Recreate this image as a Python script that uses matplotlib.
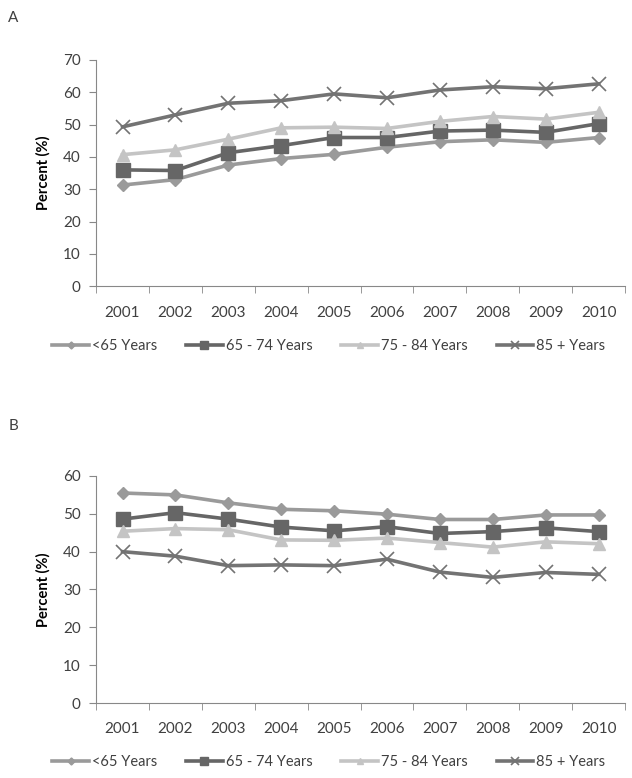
import numpy as np
import matplotlib.pyplot as plt
from matplotlib.ticker import FixedLocator

plt.rcParams.update({
    "font.family": ["Lato", "DejaVu Sans"],
    "font.size": 11,
    "text.color": "#404040",
    "axes.edgecolor": "#888888",
    "xtick.color": "#888888",
    "ytick.color": "#888888",
    "xtick.labelcolor": "#404040",
    "ytick.labelcolor": "#404040",
})

years = ["2001", "2002", "2003", "2004", "2005", "2006", "2007", "2008", "2009", "2010"]
series_names = ["<65 Years", "65 - 74 Years", "75 - 84 Years", "85 + Years"]

# panel A
a_lt65 = [31.3, 33.0, 37.5, 39.5, 40.8, 43.0, 44.7, 45.3, 44.5, 46.0]
a_65_74 = [36.0, 35.8, 41.3, 43.5, 46.0, 46.0, 48.0, 48.3, 47.6, 50.3]
a_75_84 = [40.7, 42.2, 45.5, 49.0, 49.2, 48.8, 51.0, 52.5, 51.7, 53.8]
a_85p = [49.3, 53.0, 56.6, 57.4, 59.5, 58.3, 60.7, 61.7, 61.1, 62.6]

# panel B
b_lt65 = [55.5, 55.0, 52.9, 51.2, 50.8, 49.9, 48.5, 48.5, 49.7, 49.7]
b_65_74 = [48.6, 50.3, 48.6, 46.5, 45.5, 46.6, 44.8, 45.3, 46.3, 45.3]
b_75_84 = [45.4, 46.1, 45.8, 43.1, 43.0, 43.6, 42.4, 41.2, 42.6, 42.1]
b_85p = [40.0, 38.8, 36.3, 36.5, 36.3, 38.0, 34.6, 33.2, 34.5, 34.0]

styles = [
    dict(color="#9a9a9a", marker="D", markersize=6.5),
    dict(color="#666666", marker="s", markersize=9.5),
    dict(color="#c4c4c4", marker="^", markersize=8.5),
    dict(color="#737373", marker="x", markersize=10, markeredgewidth=1.2),
]

fig = plt.figure(figsize=(6.32, 7.78), dpi=100)
ax_a = fig.add_axes([0.152, 0.632, 0.837, 0.291])
ax_b = fig.add_axes([0.152, 0.0964, 0.837, 0.2918])


def draw_panel(ax, data, ymax, legend_y):
    x = np.arange(len(years))
    for vals, name, st in zip(data, series_names, styles):
        ax.plot(x, vals, linewidth=2.6, label=name, **st)
    ax.set_xlim(-0.5, len(years) - 0.5)
    ax.set_ylim(0, ymax)
    ax.set_yticks(np.arange(0, ymax + 1, 10))
    ax.set_xticks(x)
    ax.set_xticklabels(years)
    ax.tick_params(axis="x", which="major", length=0, pad=14)
    ax.xaxis.set_minor_locator(FixedLocator(np.arange(-0.5, len(years), 1.0)))
    ax.tick_params(axis="x", which="minor", length=5, direction="out")
    ax.tick_params(axis="y", length=5, pad=6)
    for s in ["top", "right"]:
        ax.spines[s].set_visible(False)
    ax.set_ylabel("Percent (%)", fontweight="bold", fontsize=10.5, labelpad=9)
    # legend sits a bit left of the axes centre, like the original
    ax.legend(loc="center", bbox_to_anchor=(0.44, legend_y), ncol=4, frameon=False,
              handlelength=2.5, columnspacing=2.0, handletextpad=0.2,
              fontsize=10.5, markerscale=0.55)


draw_panel(ax_a, [a_lt65, a_65_74, a_75_84, a_85p], 70, -0.265)
draw_panel(ax_b, [b_lt65, b_65_74, b_75_84, b_85p], 60, -0.26)

fig.text(0.013, 0.977, "A", fontsize=11, va="center")
fig.text(0.013, 0.452, "B", fontsize=11, va="center")

fig.savefig("out.png", dpi=100)
